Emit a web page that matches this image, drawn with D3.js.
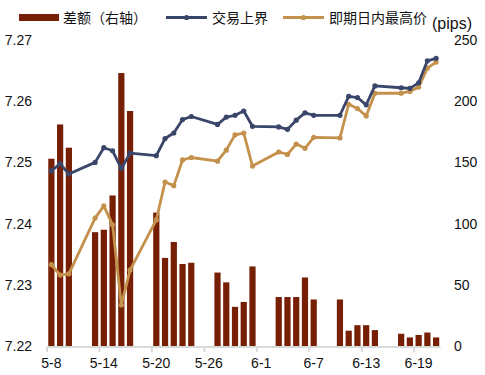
<!DOCTYPE html>
<html>
<head>
<meta charset="UTF-8">
<title>差额与交易上界</title>
<script src="https://cdn.jsdelivr.net/npm/d3@7"></script>
<style>
body { margin:0; background:#fff; }
svg { display:block; font-family:"Liberation Sans", Arial, "Noto Sans CJK SC", sans-serif; }
.tick text { font-size:14px; fill:#111; }
.legend text { font-size:14px; fill:#111; }
</style>
</head>
<body>
<svg width="485" height="375"></svg>
<script>
// trading days (2024)
const dates = ['5-8','5-9','5-10','5-13','5-14','5-15','5-16','5-17','5-20','5-21','5-22','5-23','5-24',
  '5-27','5-28','5-29','5-30','5-31','6-3','6-4','6-5','6-6','6-7','6-10','6-11','6-12','6-13','6-14',
  '6-17','6-18','6-19','6-20','6-21'];
const spread = [153,181,162,93,95,123,223,192,109,72,85,67,68,60,52,32,36,65,40,40,40,56,38,38,12.5,17,17,13,10,7,9,11,7];
const upper = [7.2486,7.2498,7.2481,7.2500,7.2524,7.2519,7.2490,7.2515,7.2511,7.2539,7.2548,7.2570,7.2575,
  7.2562,7.2574,7.2577,7.2584,7.2559,7.2558,7.2554,7.2569,7.2581,7.2577,7.2577,7.2608,7.2606,7.2594,7.2625,
  7.2622,7.2621,7.2630,7.2666,7.2670];
const high = [7.2333,7.2316,7.2318,7.2409,7.2429,7.2398,7.2267,7.2324,7.2406,7.2468,7.2462,7.2504,7.2508,
  7.2502,7.2520,7.2545,7.2548,7.2494,7.2517,7.2513,7.2530,7.2523,7.2541,7.2540,7.2595,7.2588,7.2576,7.2613,
  7.2613,7.2616,7.2623,7.2654,7.2664];
const xTicks = ['5-8','5-14','5-20','5-26','6-1','6-7','6-13','6-19'];
const leftTicks = [7.22,7.23,7.24,7.25,7.26,7.27];
const rightTicks = [0,50,100,150,200,250];

const C_BAR = '#761f05', C_UP = '#3a4669', C_HI = '#c4914c';

const svg = d3.select('svg');
// calendar days on the x axis
const parse = s => { const [m,d] = s.split('-').map(Number); return new Date(2024, m-1, d); };
const fmt = d => (d.getMonth()+1) + '-' + d.getDate();
const days = d3.timeDay.range(parse('5-8'), d3.timeDay.offset(parse('6-21'), 1)).map(fmt);

const x = d3.scaleBand().domain(days).range([47, 440.5]).paddingInner(0.29).paddingOuter(0.145);
const yL = d3.scaleLinear().domain([7.22, 7.27]).range([346, 40]);
const yR = d3.scaleLinear().domain([0, 250]).range([346, 40]);
const cx = d => x(d) + x.bandwidth()/2;

// bars
svg.append('g').selectAll('rect').data(dates).join('rect')
  .attr('x', d => x(d)).attr('width', x.bandwidth())
  .attr('y', (d,i) => yR(spread[i])).attr('height', (d,i) => yR(0) - yR(spread[i]))
  .attr('fill', C_BAR);

// x axis
const step = x.step();
const xa = svg.append('g');
xa.append('line').attr('x1', 47).attr('x2', 440.5).attr('y1', 347).attr('y2', 347)
  .attr('stroke', '#d9d9d9').attr('stroke-width', 2);
xTicks.forEach(t => {
  const bx = x(t) - step*x.paddingInner()/2;
  xa.append('line').attr('x1', bx).attr('x2', bx).attr('y1', 347).attr('y2', 352)
    .attr('stroke', '#d9d9d9').attr('stroke-width', 2);
  xa.append('text').attr('class','tick').attr('x', cx(t)).attr('y', 368)
    .attr('text-anchor','middle').style('font-size','14px').attr('fill','#111').text(t);
});

// left axis
const la = svg.append('g').attr('transform','translate(32,0)')
  .call(d3.axisLeft(yL).tickValues(leftTicks).tickFormat(d3.format('.2f')).tickSize(0).tickPadding(0));
la.select('.domain').remove();
la.selectAll('text').style('font-size','14px');

// right axis
const ra = svg.append('g').attr('transform','translate(454,0)')
  .call(d3.axisRight(yR).tickValues(rightTicks).tickSize(0).tickPadding(0));
ra.select('.domain').remove();
ra.selectAll('text').style('font-size','14px');

// lines
function series(vals, color) {
  const pts = dates.map((d,i) => [cx(d), yL(vals[i])]);
  svg.append('path').datum(pts).attr('d', d3.line())
    .attr('fill','none').attr('stroke', color).attr('stroke-width', 2.8).attr('stroke-linejoin','round');
  svg.append('g').selectAll('circle').data(pts).join('circle')
    .attr('cx', p => p[0]).attr('cy', p => p[1]).attr('r', 2.6).attr('fill', color);
}
series(high, C_HI);
series(upper, C_UP);

// legend
const lg = svg.append('g').attr('class','legend');
lg.append('rect').attr('x', 19).attr('y', 14).attr('width', 40).attr('height', 7).attr('fill', C_BAR);
lg.append('text').attr('x', 63).attr('y', 22.5).text('差额（右轴）');
[[166, C_UP, '交易上界'], [283, C_HI, '即期日内最高价']].forEach(([lx, c, t]) => {
  lg.append('line').attr('x1', lx).attr('x2', lx+41).attr('y1', 17.5).attr('y2', 17.5)
    .attr('stroke', c).attr('stroke-width', 2.8);
  lg.append('circle').attr('cx', lx+20.5).attr('cy', 17.5).attr('r', 2.6).attr('fill', c);
  lg.append('text').attr('x', lx+46).attr('y', 22.5).text(t);
});
svg.append('text').attr('x', 432).attr('y', 29).style('font-size','16px').attr('fill','#111').text('(pips)');
</script>
</body>
</html>
